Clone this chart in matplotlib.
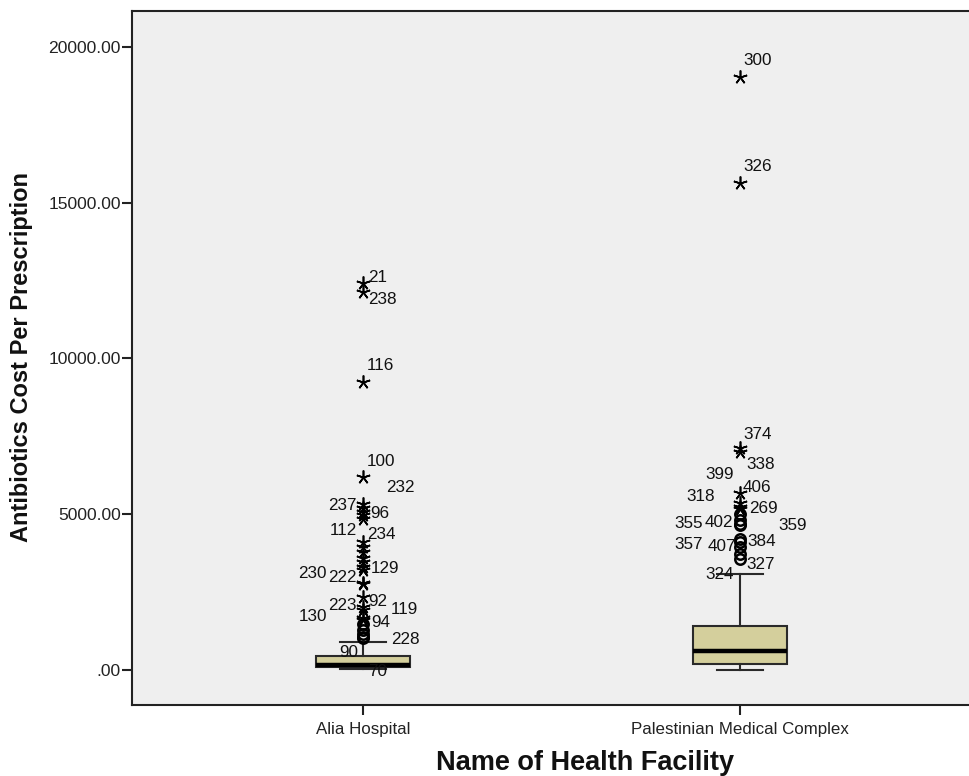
import matplotlib
matplotlib.use("Agg")
import matplotlib.pyplot as plt

# ---------------- data ----------------
facilities = ["Alia Hospital", "Palestinian Medical Complex"]

# box statistics (q1, median, q3, whisker low, whisker high)
alia_box = dict(q1=87, med=170, q3=449, whislo=30, whishi=900)
pmc_box = dict(q1=193, med=600, q3=1422, whislo=10, whishi=3091)

# extreme values (asterisks) and outliers (circles)
alia_extremes = [12433, 12145, 9236, 6186, 5329, 5201, 5082, 4976, 4848,
                 4108, 3939, 3797, 3586, 3477, 3297, 3210, 2800, 2760,
                 2353, 2032, 1926, 1660, 1610]
alia_outliers = [1467, 1284, 1146, 1069, 1020]

pmc_extremes = [19047, 15624, 7117, 7010, 5673, 5351, 5242, 5169]
pmc_outliers = [4998, 4815, 4690, 4640, 4205, 4100, 3958, 3714, 3563]

# case labels and the value of the point they label
alia_label_text = ["21", "238", "116", "100", "232", "237", "96", "112", "234",
                   "129", "230", "222", "92", "223", "119", "130", "94",
                   "70", "228", "90"]
alia_label_value = [12433, 12145, 9236, 6186, 5329, 5201, 5082, 4976, 4848,
                    3297, 3210, 2800, 2353, 2032, 1926, 1660, 1610,
                    1146, 1069, 1020]

pmc_label_text = ["300", "326", "374", "338", "399", "406", "318", "269",
                  "355", "402", "359", "357", "407", "384", "327", "324"]
pmc_label_value = [19047, 15624, 7117, 7010, 5673, 5673, 5351, 5242,
                   4998, 4815, 4690, 4205, 4100, 3958, 3563, 3563]

y_ticks = [0, 5000, 10000, 15000, 20000]
y_tick_labels = [".00", "5000.00", "10000.00", "15000.00", "20000.00"]

# ---------------- label placement (style: pixel offsets, alignment) ----------------
alia_label_style = [(5, 7, "left"), (5, -6, "left"), (4, 18, "left"), (4, 17, "left"),
                    (23, 18, "left"), (-6, 4, "right"), (7, 0, "left"), (-6, -14, "right"),
                    (4, -14, "left"), (8, 0, "left"), (-36, -2, "right"), (-6, 7, "right"),
                    (5, -3, "left"), (-6, 3, "right"), (28, 2, "left"), (-36, 3, "right"),
                    (8, -1, "left"), (5, -36, "left"), (28, -1, "left"), (-24, -13, "left")]
pmc_label_style = [(3, 18, "left"), (3, 18, "left"), (3, 15, "left"), (6, -11, "left"),
                   (-6, 20, "right"), (3, 7, "left"), (-25, 8, "right"), (9, 0, "left"),
                   (-37, -8, "right"), (-7, -1, "right"), (38, 0, "left"), (-37, -4, "right"),
                   (-4, -3, "right"), (7, 7, "left"), (6, -4, "left"), (-6, -14, "right")]

# ---------------- figure ----------------
plt.rcParams['font.family'] = ['Liberation Sans', 'DejaVu Sans']
W, H = 969, 776
fig = plt.figure(figsize=(W / 100, H / 100), dpi=100)
fig.patch.set_facecolor("white")
ax = fig.add_axes([132 / W, (H - 705) / H, (W - 132) / W, (705 - 11) / H])
ax.set_facecolor("#efefef")

positions = [1, 2]
stats = []
for b, name in zip([alia_box, pmc_box], facilities):
    s = dict(b)
    s["label"] = name
    s["fliers"] = []
    stats.append(s)

ax.bxp(stats, positions=positions, widths=0.25, capwidths=0.122,
       patch_artist=True, showfliers=False,
       boxprops=dict(facecolor="#d4cf9c", edgecolor="#2a2a2a", linewidth=1.5),
       medianprops=dict(color="black", linewidth=3.2, solid_capstyle="butt"),
       whiskerprops=dict(color="#2a2a2a", linewidth=1.5),
       capprops=dict(color="#2a2a2a", linewidth=1.5))

star = (5, 2, 0)
for pos, ext, out in [(1, alia_extremes, alia_outliers), (2, pmc_extremes, pmc_outliers)]:
    ax.plot([pos] * len(out), out, linestyle="none", marker="o", markersize=7.5,
            markerfacecolor="none", markeredgecolor="black", markeredgewidth=1.8)
    ax.plot([pos] * len(ext), ext, linestyle="none", marker=star, markersize=10,
            markeredgecolor="black", markeredgewidth=1.2)

BASE = 6  # half cap height in pixels -> baseline alignment
for pos, texts, vals, styles in [(1, alia_label_text, alia_label_value, alia_label_style),
                                 (2, pmc_label_text, pmc_label_value, pmc_label_style)]:
    for t, v, (dx, dy, ha) in zip(texts, vals, styles):
        ax.annotate(t, xy=(pos, v), xytext=(dx, dy - BASE), textcoords="offset pixels",
                    ha=ha, va="baseline", fontsize=12.3, color="#111111")

ax.set_xlim(0.3873, 2.6074)
ax.set_ylim(-1124, 21156)
ax.set_xticks(positions)
ax.set_xticklabels(facilities, fontsize=12.2)
ax.set_yticks(y_ticks)
ax.set_yticklabels(y_tick_labels, fontsize=12.6)
ax.tick_params(axis="both", direction="out", length=7, width=1.5, color="#222222",
               labelcolor="#222222")
ax.tick_params(axis="y", pad=1)
ax.tick_params(axis="x", pad=5)

for side in ["left", "bottom", "top"]:
    ax.spines[side].set_linewidth(1.5)
    ax.spines[side].set_color("#222222")
ax.spines["right"].set_visible(False)

fig.text(22 / W, 1 - 357 / H, "Antibiotics Cost Per Prescription", rotation=90,
         ha="center", va="center", fontsize=17, fontweight="bold", color="#111111")
fig.text(585 / W, 1 - 763 / H, "Name of Health Facility",
         ha="center", va="center", fontsize=19.5, fontweight="bold", color="#111111")

fig.savefig("out.png", dpi=100)
